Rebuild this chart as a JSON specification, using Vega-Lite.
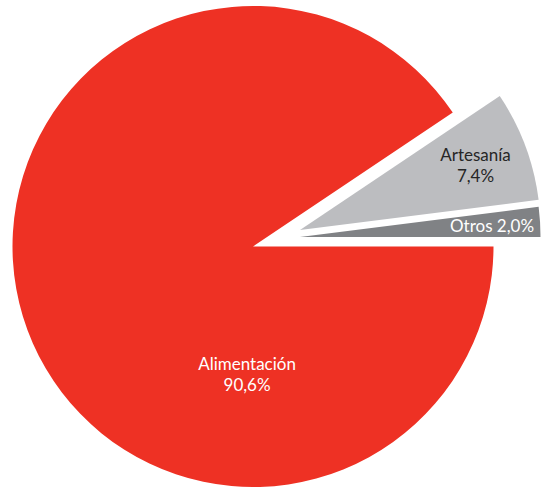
{
  "$schema": "https://vega.github.io/schema/vega-lite/v6.json",
  "width": 506,
  "height": 493,
  "autosize": {"type": "none"},
  "padding": {"left": 0, "top": 0, "right": 35, "bottom": 0},
  "background": "white",
  "view": {"stroke": null},
  "data": {
    "values": [
      {"categoria": "Alimentación", "valor": 90.6, "orden": 1, "etiqueta": ["Alimentación", "90,6%"]},
      {"categoria": "Artesanía", "valor": 7.4, "orden": 2, "etiqueta": ["Artesanía", "7,4%"]},
      {"categoria": "Otros", "valor": 2.0, "orden": 3, "etiqueta": "Otros 2,0%"}
    ]
  },
  "transform": [
    {"stack": "valor", "groupby": [], "sort": [{"field": "orden", "order": "ascending"}], "as": ["v0", "v1"]}
  ],
  "layer": [
    {
      "transform": [{"filter": "datum.categoria === 'Alimentación'"}],
      "mark": {"type": "arc", "radius": 240.5, "stroke": null},
      "encoding": {
        "theta": {"field": "v0", "type": "quantitative", "scale": {"domain": [0, 100], "range": [1.5707963, 7.8539816]}},
        "theta2": {"field": "v1"},
        "color": {"field": "categoria", "type": "nominal", "legend": null,
          "scale": {"domain": ["Alimentación", "Artesanía", "Otros"], "range": ["#EE3124", "#BCBDC0", "#808285"]}}
      }
    },
    {
      "transform": [{"filter": "datum.categoria === 'Artesanía'"}],
      "mark": {"type": "arc", "radius": 240.5, "stroke": null, "xOffset": 47, "yOffset": -16.5},
      "encoding": {
        "theta": {"field": "v0", "type": "quantitative"},
        "theta2": {"field": "v1"},
        "color": {"field": "categoria", "type": "nominal", "legend": null}
      }
    },
    {
      "transform": [{"filter": "datum.categoria === 'Otros'"}],
      "mark": {"type": "arc", "radius": 240.5, "stroke": null, "xOffset": 47, "yOffset": -9.5},
      "encoding": {
        "theta": {"field": "v0", "type": "quantitative"},
        "theta2": {"field": "v1"},
        "color": {"field": "categoria", "type": "nominal", "legend": null}
      }
    },
    {
      "mark": {"type": "text", "radius": 129.6, "dy": -10.5, "font": "Lato", "fontSize": 17, "lineHeight": 21, "color": "#FFFFFF", "align": "center", "baseline": "middle"},
      "encoding": {
        "theta": {"field": "valor", "type": "quantitative", "stack": true, "bandPosition": 0.284},
        "detail": {"field": "categoria"},
        "order": {"field": "orden"},
        "text": {"condition": {"test": "datum.categoria === 'Alimentación'", "field": "etiqueta"}, "value": ""}
      }
    },
    {
      "mark": {"type": "text", "radius": 236.3, "dy": -10.5, "font": "Lato", "fontSize": 17, "lineHeight": 21, "color": "#262626", "align": "center", "baseline": "middle"},
      "encoding": {
        "theta": {"field": "valor", "type": "quantitative", "stack": true, "bandPosition": 0.532},
        "detail": {"field": "categoria"},
        "order": {"field": "orden"},
        "text": {"condition": {"test": "datum.categoria === 'Artesanía'", "field": "etiqueta"}, "value": ""}
      }
    },
    {
      "mark": {"type": "text", "radius": 239.8, "font": "Lato", "fontSize": 17, "lineHeight": 21, "color": "#FFFFFF", "align": "center", "baseline": "middle"},
      "encoding": {
        "theta": {"field": "valor", "type": "quantitative", "stack": true, "bandPosition": 0.368},
        "detail": {"field": "categoria"},
        "order": {"field": "orden"},
        "text": {"condition": {"test": "datum.categoria === 'Otros'", "field": "etiqueta"}, "value": ""}
      }
    }
  ]
}
